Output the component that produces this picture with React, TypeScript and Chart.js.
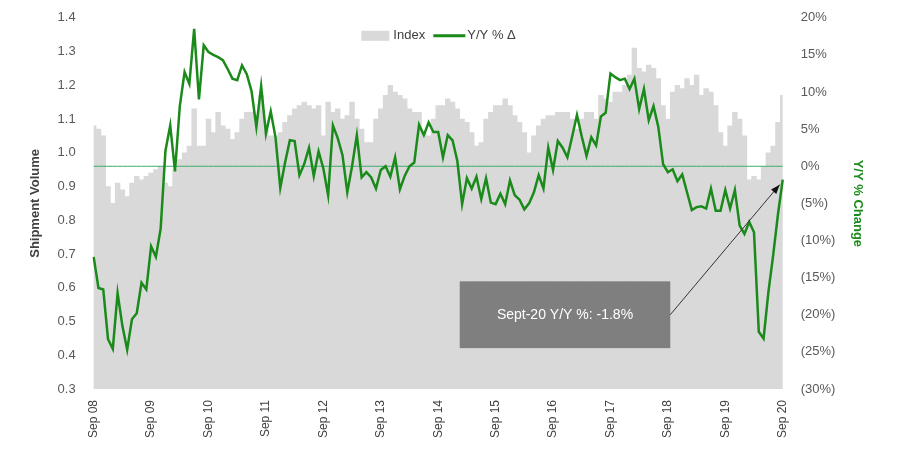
import React, { useEffect, useRef } from "react";
import { Chart, registerables } from "chart.js";
Chart.register(...registerables);

const yearLabels = ["08","09","10","11","12","13","14","15","16","17","18","19","20"];
const months = Array.from({ length: 145 }, (_, i) => {
  const m = ["Sep","Oct","Nov","Dec","Jan","Feb","Mar","Apr","May","Jun","Jul","Aug"][i % 12];
  const y = 8 + Math.floor((i + 8) / 12);
  return m + " " + String(y).padStart(2, "0");
});

const indexValues = [
  1.08,1.07,1.05,0.9,0.85,0.91,0.89,0.87,0.91,0.93,0.92,0.93,
  0.94,0.95,0.96,0.91,0.9,0.95,0.98,1.0,1.02,1.13,1.02,1.02,
  1.1,1.06,1.12,1.08,1.07,1.04,1.06,1.1,1.12,1.12,1.11,1.17,
  1.07,1.05,1.05,1.06,1.09,1.11,1.13,1.14,1.15,1.14,1.13,1.14,
  1.05,1.15,1.12,1.13,1.1,1.11,1.15,1.1,1.07,1.03,1.03,1.1,
  1.13,1.17,1.2,1.18,1.17,1.16,1.13,1.12,1.12,1.06,1.05,1.1,
  1.14,1.14,1.16,1.15,1.13,1.1,1.09,1.06,1.02,1.03,1.1,1.12,
  1.14,1.14,1.16,1.14,1.11,1.09,1.06,1.0,1.05,1.08,1.1,1.11,
  1.11,1.12,1.12,1.12,1.1,1.07,1.1,1.12,1.12,1.1,1.17,1.16,
  1.15,1.18,1.18,1.2,1.23,1.31,1.25,1.24,1.26,1.25,1.22,1.14,
  1.1,1.18,1.2,1.19,1.22,1.2,1.23,1.17,1.19,1.18,1.14,1.06,
  1.02,1.08,1.12,1.1,1.05,0.92,0.93,0.92,0.96,1.0,1.02,1.09,
  1.17
];

const yoyValues = [
  -12.2,-16.4,-16.6,-23.3,-24.6,-17.1,-21.5,-24.7,-20.6,-19.8,
  -15.7,-16.6,-10.8,-12.2,-8.4,2.1,5.5,-0.7,8.1,12.7,
  11.1,18.5,9.0,16.3,15.4,15.0,14.7,14.3,13.1,11.8,
  11.6,13.6,12.4,10.1,5.3,10.8,4.4,7.4,3.9,-2.9,
  0.5,3.5,3.4,-1.2,0.3,2.5,-1.3,2.0,-0.3,-3.9,
  5.5,3.8,1.5,-3.5,0,4.2,-1.5,-0.8,-1.5,-3.0,
  -0.5,0,-1.4,1.2,-3.1,-1.3,0.0,0.5,5.6,4.2,
  5.9,4.6,4.6,1.2,
  4.2,3.5,0.7,-5.1,-1.6,-3.0,-1.4,-4.4,-1.6,-4.9,
  -5.1,-3.7,-5.1,-1.9,-3.9,-4.5,-5.8,-5.0,-3.5,-1.2,-3.0,
  2.5,-0.5,3.4,2.5,1.2,4.0,6.9,4.0,1.4,3.9,
  2.8,6.7,7.2,12.5,12.0,11.6,11.8,10.4,11.8,7.7,10.4,
  6.2,8.1,5.3,0.3,-0.8,-0.4,-2.0,-1.1,-3.5,-5.9,-5.5,
  -5.4,-5.7,-3.0,-3.2,-5.7,-3.2,-8.0,-9.1,-7.5,-8.9,
  -22.3,-23.2,-17.0,-12.0,-6.5,-1.8
];
while (yoyValues.length < 145) yoyValues.splice(130, 0, -6.0);

const zeroLine = months.map(() => 0);
const annotationText = "Sept-20 Y/Y %: -1.8%";
const FONT = "'Liberation Sans', Arial, sans-serif";
const GREEN = "#1a8a1a";

const annotationPlugin = {
  id: "calloutBox",
  afterDatasetsDraw(chart: any) {
    const { ctx, scales, chartArea } = chart;
    const x = scales.x, yr = scales.y1;
    const left = x.getPixelForValue(76.5), right = x.getPixelForValue(120.5);
    const top = yr.getPixelForValue(-15.5), bottom = yr.getPixelForValue(-24.5);
    ctx.save();
    ctx.fillStyle = "#7f7f7f";
    ctx.fillRect(left, top, right - left, bottom - top);
    ctx.fillStyle = "#ffffff";
    ctx.font = "14px " + FONT;
    ctx.textAlign = "center";
    ctx.textBaseline = "middle";
    ctx.fillText(annotationText, (left + right) / 2, (top + bottom) / 2);
    const last = yoyValues.length - 1;
    const sx = right, sy = (top + bottom) / 2;
    const ex = x.getPixelForValue(last) - 3, ey = yr.getPixelForValue(yoyValues[last]) + 5;
    ctx.strokeStyle = "#333";
    ctx.lineWidth = 1;
    ctx.beginPath(); ctx.moveTo(sx, sy); ctx.lineTo(ex, ey); ctx.stroke();
    const a = Math.atan2(ey - sy, ex - sx);
    ctx.fillStyle = "#111";
    ctx.beginPath();
    ctx.moveTo(ex, ey);
    ctx.lineTo(ex - 10 * Math.cos(a - 0.35), ey - 10 * Math.sin(a - 0.35));
    ctx.lineTo(ex - 10 * Math.cos(a + 0.35), ey - 10 * Math.sin(a + 0.35));
    ctx.closePath(); ctx.fill();
    // legend inside plot area
    const cx = x.getPixelForValue(76);
    const ly = chartArea.top + 18;
    ctx.font = "13px " + FONT;
    ctx.textAlign = "left";
    ctx.fillStyle = "#d9d9d9";
    ctx.fillRect(cx - 96, ly - 5, 28, 10);
    ctx.fillStyle = "#404040";
    ctx.fillText("Index", cx - 64, ly);
    ctx.strokeStyle = GREEN; ctx.lineWidth = 3;
    ctx.beginPath(); ctx.moveTo(cx - 24, ly); ctx.lineTo(cx + 8, ly); ctx.stroke();
    ctx.fillText("Y/Y % Δ", cx + 10, ly);
    ctx.restore();
  },
};

export default function App() {
  const ref = useRef<HTMLCanvasElement>(null);
  useEffect(() => {
    document.body.style.margin = "0";
    const chart = new Chart(ref.current!, {
      type: "bar",
      data: {
        labels: months,
        datasets: [
          { type: "line", label: "Y/Y % Δ", data: yoyValues, yAxisID: "y1", borderColor: GREEN, borderWidth: 2.5, pointRadius: 0, tension: 0, order: 1 },
          { type: "line", label: "zero", data: zeroLine, yAxisID: "y1", borderColor: "#3dae6a", borderWidth: 1, pointRadius: 0, order: 2 },
          { type: "bar", label: "Index", data: indexValues, yAxisID: "y", backgroundColor: "#d9d9d9", barPercentage: 1, categoryPercentage: 1, order: 3 },
        ] as any,
      },
      options: {
        animation: false,
        responsive: false,
        layout: { padding: { top: 14, left: 24, right: 30, bottom: 30 } },
        plugins: { legend: { display: false }, tooltip: { enabled: false } },
        scales: {
          x: {
            offset: false,
            grid: { display: false },
            border: { display: false },
            ticks: {
              autoSkip: false, maxRotation: 90, minRotation: 90,
              color: "#404040", font: { family: FONT, size: 12 },
              callback: (_v: any, i: number) => (i % 12 === 0 ? "Sep " + yearLabels[i / 12] : null),
            },
          },
          y: {
            position: "left", min: 0.3, max: 1.4,
            grid: { display: false }, border: { display: false },
            ticks: { stepSize: 0.1, padding: 10, color: "#595959", font: { family: FONT, size: 13 }, callback: (v: any) => Number(v).toFixed(1) },
            title: { display: true, text: "Shipment Volume", color: "#404040", font: { family: FONT, size: 13, weight: "bold" } },
          },
          y1: {
            position: "right", min: -30, max: 20,
            grid: { display: false }, border: { display: false },
            ticks: { stepSize: 5, padding: 10, color: "#595959", font: { family: FONT, size: 13 }, callback: (v: any) => (v < 0 ? "(" + -v + "%)" : v + "%") },
            title: { display: true, text: "Y/Y % Change", color: GREEN, font: { family: FONT, size: 13, weight: "bold" } },
          },
        },
      },
      plugins: [annotationPlugin],
    });
    return () => chart.destroy();
  }, []);
  return <canvas ref={ref} width={899} height={471} style={{ display: "block" }} />;
}
